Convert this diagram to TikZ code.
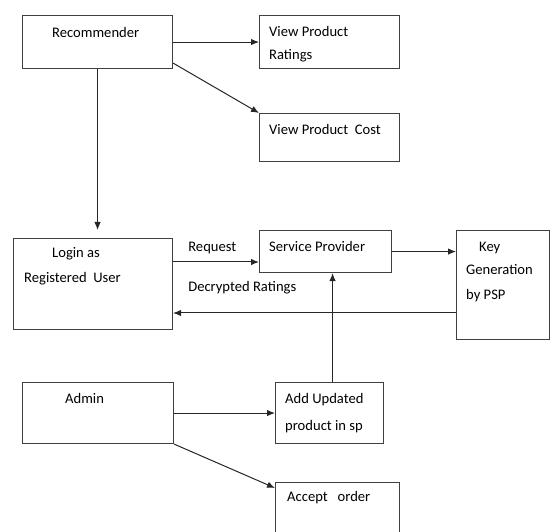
\documentclass[tikz,border=0pt]{standalone}
\usepackage{fontspec}
\setmainfont{Carlito}
\usetikzlibrary{arrows.meta, positioning}

\tikzset{
  box/.style={draw=black!75, line width=1.1pt, rectangle, anchor=north west, inner sep=0pt},
  txt/.style={anchor=base west, inner sep=0pt, font=\fontsize{14.6}{17}\selectfont},
  flow/.style={draw=black!85, line width=1pt, -{Latex[length=8pt,width=6.5pt]}},
}

\begin{document}
\begin{tikzpicture}[x=1pt,y=-1pt]
\useasboundingbox (0,0) rectangle (550,532);

% the boxes
\node[box, minimum width=150pt, minimum height=53pt] (rec) at (22,15) {};
\node[box, minimum width=140pt, minimum height=53pt] (ratings) at (259,15) {};
\node[box, minimum width=140pt, minimum height=48pt] (cost) at (259,113) {};
\node[box, minimum width=159pt, minimum height=91pt] (login) at (13,238) {};
\node[box, minimum width=132pt, minimum height=42pt] (sp) at (259,230) {};
\node[box, minimum width=93pt, minimum height=109pt] (key) at (456,230) {};
\node[box, minimum width=151pt, minimum height=61pt] (admin) at (22,382) {};
\node[box, minimum width=108pt, minimum height=61pt] (add) at (275,382) {};
\node[box, minimum width=124pt, minimum height=60pt] (accept) at (275,482) {};

% text inside the boxes
\node[txt] (rec-t) at ([shift={(30pt,-23pt)}]rec.north west) {Recommender};
\node[txt] (ratings-t1) at ([shift={(10pt,-22pt)}]ratings.north west) {View Product};
\node[txt] (ratings-t2) at ([shift={(10pt,-45pt)}]ratings.north west) {Ratings};
\node[txt] (cost-t) at ([shift={(10pt,-22pt)}]cost.north west) {View Product~ Cost};
\node[txt] (login-t1) at ([shift={(39pt,-20pt)}]login.north west) {Login as};
\node[txt] (login-t2) at ([shift={(11pt,-45pt)}]login.north west) {Registered~ User};
\node[txt] (sp-t) at ([shift={(10pt,-22pt)}]sp.north west) {Service Provider};
\node[txt] (key-t1) at ([shift={(23pt,-22pt)}]key.north west) {Key};
\node[txt] (key-t2) at ([shift={(10pt,-45pt)}]key.north west) {Generation};
\node[txt] (key-t3) at ([shift={(10pt,-70pt)}]key.north west) {by PSP};
\node[txt] (admin-t) at ([shift={(43pt,-22pt)}]admin.north west) {Admin};
\node[txt] (add-t1) at ([shift={(10pt,-22pt)}]add.north west) {Add Updated};
\node[txt] (add-t2) at ([shift={(10pt,-49pt)}]add.north west) {product in sp};
\node[txt] (accept-t) at ([shift={(12pt,-19pt)}]accept.north west) {Accept~~ order};

% arrows
\coordinate (recout) at ([yshift=6pt]rec.south east);
\coordinate (req) at ([yshift=-24pt]login.north east);
\coordinate (dec) at ([yshift=-83pt]key.north west);
\coordinate (upd) at ([xshift=3pt]add.north);
\coordinate (acc) at ([yshift=-6pt]accept.north west);

\draw[flow] (rec.east) -- (ratings.west);
\draw[flow] (recout) -- (cost.north west);
\draw[flow, shorten >=8pt] (rec.south) -- (rec.south |- login.north);
\draw[flow] (req) -- (req -| sp.west);
\draw[flow] (sp.east) -- (sp.east -| key.west);
\draw[flow] (dec) -- (dec -| login.east);
\draw[flow] (upd) -- (upd |- sp.south);
\draw[flow] (admin.east) -- (add.west);
\draw[flow] (admin.south east) -- (acc);

% labels on the arrows
\node[txt] (request) at ([shift={(15pt,-14pt)}]login.north east) {Request};
\node[txt] (decrypted) at ([shift={(15pt,-54pt)}]login.north east) {Decrypted Ratings};
\end{tikzpicture}
\end{document}
